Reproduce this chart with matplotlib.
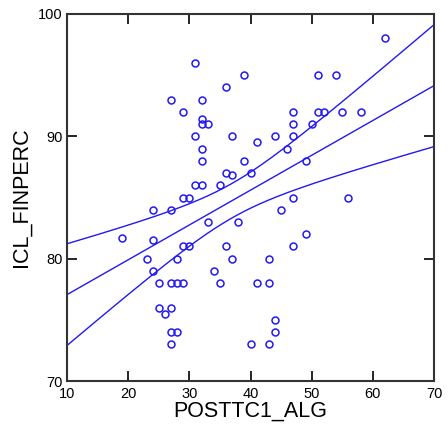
import numpy as np
import matplotlib
matplotlib.use("Agg")
import matplotlib.pyplot as plt

plt.rcParams['font.family'] = ['Liberation Sans', 'DejaVu Sans']

# data
posttc1_alg = [31, 27, 32, 29, 32, 32, 33, 31, 32, 32,
               31, 32, 35, 29, 30, 24, 27, 33, 19, 24,
               29, 30, 23, 28, 24, 25, 27, 28, 29, 34,
               35, 25, 27, 26, 27, 28, 27,
               39, 36, 51, 47, 51, 52, 47, 50, 37, 44, 47,
               41, 46, 39, 49, 36, 37, 40, 47, 45, 38,
               49, 36, 47, 37, 43, 41, 43, 44, 44, 40, 43,
               62, 54, 55, 58, 56]
icl_finperc = [96, 93, 93, 92, 91.4, 91, 91, 90, 89, 88,
               86, 86, 86, 85, 85, 84, 84, 83, 81.7, 81.5,
               81, 81, 80, 80, 79, 78, 78, 78, 78, 79,
               78, 76, 76, 75.5, 74, 74, 73,
               95, 94, 95, 92, 92, 92, 91, 91, 90, 90, 90,
               89.5, 89, 88, 88, 87, 86.8, 87, 85, 84, 83,
               82, 81, 81, 80, 80, 78, 78, 75, 74, 73, 73,
               98, 95, 92, 92, 85]

xticks = [10, 20, 30, 40, 50, 60, 70]
yticks = [70, 80, 90, 100]
t_crit = 1.993  # 95%, df = n - 2

x = np.array(posttc1_alg, dtype=float)
y = np.array(icl_finperc, dtype=float)
n = len(x)

# least squares fit + confidence band for the mean
slope, intercept = np.polyfit(x, y, 1)
resid = y - (intercept + slope * x)
s = np.sqrt(np.sum(resid ** 2) / (n - 2))
sxx = np.sum((x - x.mean()) ** 2)
xs = np.linspace(10, 70, 200)
fit = intercept + slope * xs
half = t_crit * s * np.sqrt(1.0 / n + (xs - x.mean()) ** 2 / sxx)

blue = "#2218f2"

fig = plt.figure(figsize=(4.48, 4.32), dpi=100)
ax = fig.add_axes([0.1496, 0.118, 0.8192, 0.8496])

ax.plot(xs, fit, color=blue, lw=1)
ax.plot(xs, fit + half, color=blue, lw=1)
ax.plot(xs, fit - half, color=blue, lw=1)
ax.plot(x, y, "o", mfc="none", mec=blue, ms=5, mew=1.1)

ax.set_xlim(10, 70)
ax.set_ylim(70, 100)
ax.set_xticks(xticks)
ax.set_yticks(yticks)
ax.tick_params(direction="in", length=7, width=1.2, top=True, right=True,
               labelsize=10.5, colors="black")
ax.tick_params(axis="x", pad=4)
ax.tick_params(axis="y", pad=3)
for sp in ax.spines.values():
    sp.set_linewidth(1.5)
    sp.set_color("#333333")

ax.set_xlabel("POSTTC1_ALG", fontsize=15.5, labelpad=0)
ax.set_ylabel("ICL_FINPERC", fontsize=15.5, labelpad=5)

plt.savefig("out.png", dpi=100)
